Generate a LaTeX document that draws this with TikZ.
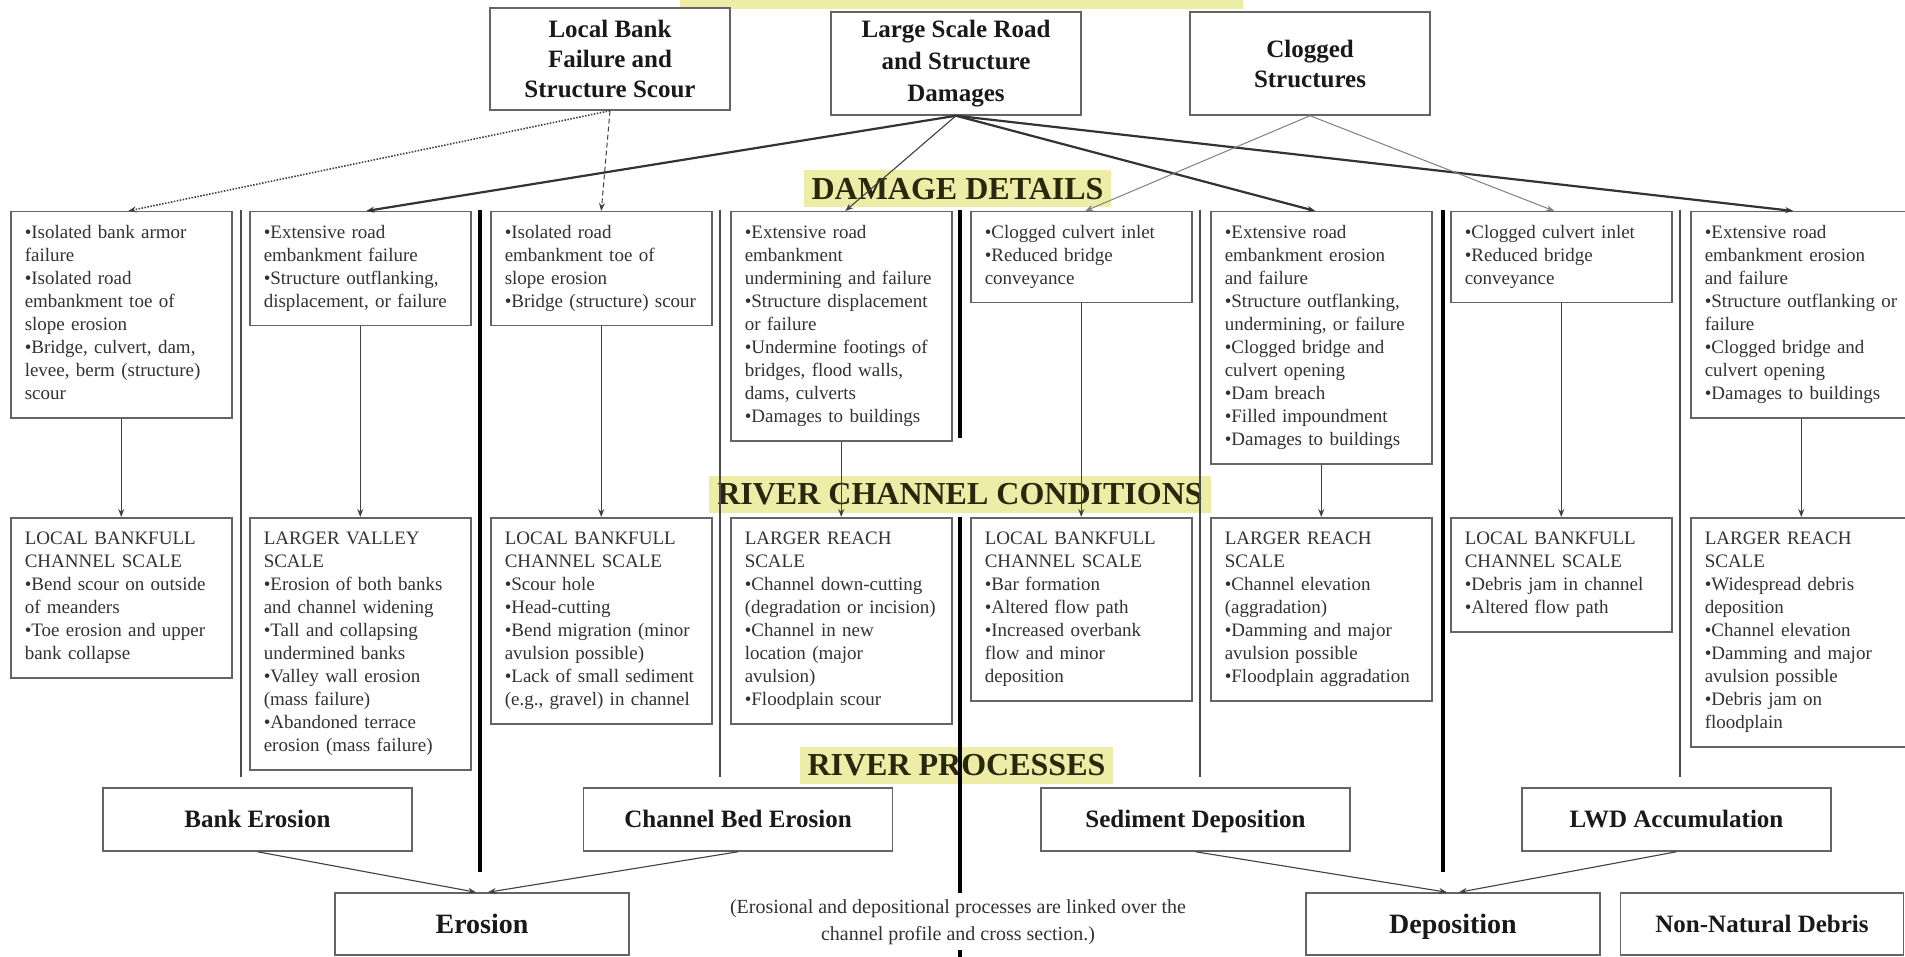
\documentclass[tikz,border=0pt]{standalone}
\usepackage{fontspec}
\setmainfont{Liberation Serif}
\usetikzlibrary{arrows.meta}
\definecolor{hl}{RGB}{238,237,168}
\definecolor{hltext}{RGB}{40,40,15}
\definecolor{boxline}{RGB}{100,100,100}
\definecolor{bodytext}{RGB}{50,50,50}
\newcommand{\boxtext}[1]{\noindent\begin{tabular}{@{}l@{}}#1\end{tabular}}
\tikzset{
  detail/.style={draw=boxline, line width=1.5pt, anchor=north west, inner xsep=14pt, inner ysep=11pt,
    text width=193pt, align=left, font=\fontsize{19}{23}\selectfont, text=bodytext},
  head/.style={draw=boxline, line width=1.5pt, font=\bfseries\fontsize{25}{30}\selectfont, align=center,
    text=black!90, inner sep=0pt},
  onehead/.style={head, text height=17.5pt, text depth=1pt},
  bighead/.style={head, font=\bfseries\fontsize{28}{32}\selectfont, text height=19.6pt, text depth=1.1pt},
  lab/.style={fill=hl, text=hltext, font=\bfseries\fontsize{32}{36}\selectfont, inner xsep=8pt,
    minimum height=37pt, inner ysep=0pt},
  conn/.style={-{Stealth[length=8pt,width=6pt]}, line width=1.1pt, draw=black!75},
  thickconn/.style={-{Stealth[length=8pt,width=6pt]}, line width=2.2pt, draw=black!80},
  grayconn/.style={-{Stealth[length=8pt,width=6pt]}, line width=1pt, draw=black!50},
  dotline/.style={-{Stealth[length=8pt,width=6pt]}, line width=1.6pt, draw=black!75, dash pattern=on 1.5pt off 1.5pt},
  dashline/.style={-{Stealth[length=8pt,width=6pt]}, line width=1pt, draw=black!75, dash pattern=on 5pt off 3pt},
  septhin/.style={line width=1.6pt, draw=black!70},
  septhick/.style={line width=3.6pt, draw=black},
  note/.style={font=\fontsize{20}{27}\selectfont, align=center, text=bodytext}
}
\begin{document}
\begin{tikzpicture}[x=1pt, y=-1pt]
\useasboundingbox (0,0) rectangle (1905,957);
\clip (0,0) rectangle (1905,957);
\fill[white] (0,0) rectangle (1905,957);

% yellow section labels
\fill[hl] (680,0) rectangle (1243,9);
\node[lab] (ldd) at (957.5,189) {DAMAGE DETAILS};
\node[lab] (lrcc) at (960,494) {RIVER CHANNEL CONDITIONS};
\node[lab] (lrp) at (956.5,765.5) {RIVER PROCESSES};

% top boxes
\node[head, minimum width=240pt, minimum height=102pt] (t1) at (610,59) {Local Bank\\Failure and\\Structure Scour};
\node[head, minimum width=250pt, minimum height=103pt, font=\bfseries\fontsize{25}{32}\selectfont] (t2) at (956,63.5) {Large Scale Road\\and Structure\\Damages};
\node[head, minimum width=240pt, minimum height=103pt] (t3) at (1310,63.5) {Clogged\\Structures};

% damage detail boxes
\node[detail] (d1) at (10,211) {\boxtext{\textbullet Isolated bank armor\\failure\\\textbullet Isolated road\\embankment toe of\\slope erosion\\\textbullet Bridge, culvert, dam,\\levee, berm (structure)\\scour}};
\node[detail] (d2) at (249,211) {\boxtext{\textbullet Extensive road\\embankment failure\\\textbullet Structure outflanking,\\displacement, or failure}};
\node[detail] (d3) at (490,211) {\boxtext{\textbullet Isolated road\\embankment toe of\\slope erosion\\\textbullet Bridge (structure) scour}};
\node[detail] (d4) at (730,211) {\boxtext{\textbullet Extensive road\\embankment\\undermining and failure\\\textbullet Structure displacement\\or failure\\\textbullet Undermine footings of\\bridges, flood walls,\\dams, culverts\\\textbullet Damages to buildings}};
\node[detail] (d5) at (970,211) {\boxtext{\textbullet Clogged culvert inlet\\\textbullet Reduced bridge\\conveyance}};
\node[detail] (d6) at (1210,211) {\boxtext{\textbullet Extensive road\\embankment erosion\\and failure\\\textbullet Structure outflanking,\\undermining, or failure\\\textbullet Clogged bridge and\\culvert opening\\\textbullet Dam breach\\\textbullet Filled impoundment\\\textbullet Damages to buildings}};
\node[detail] (d7) at (1450,211) {\boxtext{\textbullet Clogged culvert inlet\\\textbullet Reduced bridge\\conveyance}};
\node[detail] (d8) at (1690,211) {\boxtext{\textbullet Extensive road\\embankment erosion\\and failure\\\textbullet Structure outflanking or\\failure\\\textbullet Clogged bridge and\\culvert opening\\\textbullet Damages to buildings}};

% river channel condition boxes
\node[detail] (c1) at (10,517) {\boxtext{LOCAL BANKFULL\\CHANNEL SCALE\\\textbullet Bend scour on outside\\of meanders\\\textbullet Toe erosion and upper\\bank collapse}};
\node[detail] (c2) at (249,517) {\boxtext{LARGER VALLEY\\SCALE\\\textbullet Erosion of both banks\\and channel widening\\\textbullet Tall and collapsing\\undermined banks\\\textbullet Valley wall erosion\\(mass failure)\\\textbullet Abandoned terrace\\erosion (mass failure)}};
\node[detail] (c3) at (490,517) {\boxtext{LOCAL BANKFULL\\CHANNEL SCALE\\\textbullet Scour hole\\\textbullet Head-cutting\\\textbullet Bend migration (minor\\avulsion possible)\\\textbullet Lack of small sediment\\(e.g., gravel) in channel}};
\node[detail] (c4) at (730,517) {\boxtext{LARGER REACH\\SCALE\\\textbullet Channel down-cutting\\(degradation or incision)\\\textbullet Channel in new\\location (major\\avulsion)\\\textbullet Floodplain scour}};
\node[detail] (c5) at (970,517) {\boxtext{LOCAL BANKFULL\\CHANNEL SCALE\\\textbullet Bar formation\\\textbullet Altered flow path\\\textbullet Increased overbank\\flow and minor\\deposition}};
\node[detail] (c6) at (1210,517) {\boxtext{LARGER REACH\\SCALE\\\textbullet Channel elevation\\(aggradation)\\\textbullet Damming and major\\avulsion possible\\\textbullet Floodplain aggradation}};
\node[detail] (c7) at (1450,517) {\boxtext{LOCAL BANKFULL\\CHANNEL SCALE\\\textbullet Debris jam in channel\\\textbullet Altered flow path}};
\node[detail] (c8) at (1690,517) {\boxtext{LARGER REACH\\SCALE\\\textbullet Widespread debris\\deposition\\\textbullet Channel elevation\\\textbullet Damming and major\\avulsion possible\\\textbullet Debris jam on\\floodplain}};

% river process boxes
\node[onehead, minimum width=309pt, minimum height=63pt] (p1) at (257.5,819.5) {Bank Erosion};
\node[onehead, minimum width=309pt, minimum height=63pt] (p2) at (738,819.5) {Channel Bed Erosion};
\node[onehead, minimum width=309pt, minimum height=63pt] (p3) at (1195.5,819.5) {Sediment Deposition};
\node[onehead, minimum width=309pt, minimum height=63pt] (p4) at (1676.5,819.5) {LWD Accumulation};

% result boxes
\node[bighead, minimum width=294pt, minimum height=62pt] (e1) at (482,924) {Erosion};
\node[bighead, minimum width=294pt, minimum height=62pt] (e2) at (1453,924) {Deposition};
\node[onehead, minimum width=283pt, minimum height=62pt] (e3) at (1762,924) {Non-Natural Debris};
\node[note] (nt) at (958,922) {(Erosional and depositional processes are linked over the\\channel profile and cross section.)};

% column separators
\foreach \xx in {241,720,1200,1680} {\draw[septhin] (\xx,210) -- (\xx,777);}
\foreach \xx in {480,1443} {\draw[septhick] (\xx,210) -- (\xx,872);}
\draw[septhick] (960,210) -- (960,438);
\draw[septhick] (960,517) -- (960,893);
\draw[septhick] (960,950) -- (960,957);

% connectors from classifications to damage details
\draw[dotline] (t1.south) -- ([xshift=7pt]d1.north);
\draw[dashline] (t1.south) -- (d3.north);
\draw[thickconn] (t2.south) -- ([xshift=6pt]d2.north);
\draw[conn] (t2.south) -- ([xshift=4pt]d4.north);
\draw[thickconn] (t2.south) -- ([xshift=-6pt]d6.north);
\draw[thickconn] (t2.south) -- ([xshift=-8pt]d8.north);
\draw[grayconn] (t3.south) -- ([xshift=4pt]d5.north);
\draw[grayconn] (t3.south) -- ([xshift=-7pt]d7.north);

% damage details to channel conditions
\foreach \i in {1,...,8} {\draw[conn] (d\i.south) -- (c\i.north);}

% processes to results
\draw[conn] (p1.south) -- ([xshift=-6pt]e1.north);
\draw[conn] (p2.south) -- ([xshift=6pt]e1.north);
\draw[conn] (p3.south) -- ([xshift=-6pt]e2.north);
\draw[conn] (p4.south) -- ([xshift=6pt]e2.north);
\end{tikzpicture}
\end{document}
